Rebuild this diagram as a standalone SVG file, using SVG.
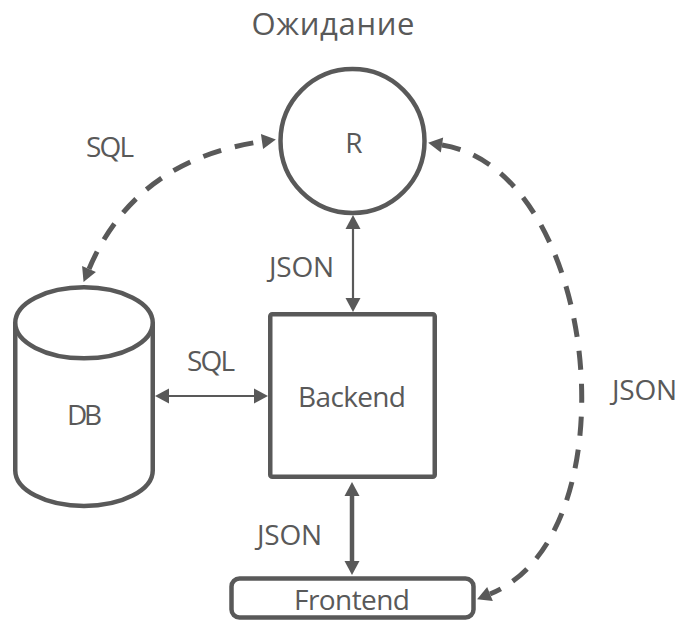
<svg xmlns="http://www.w3.org/2000/svg" width="679" height="621" viewBox="0 0 679 621">
  <style>
    .lbl { font-family: "Open Sans", "Noto Sans", "DejaVu Sans", sans-serif; fill: #595959; text-anchor: middle; }
    .shape { fill: #ffffff; stroke: #595959; stroke-width: 4.5; }
    .link { fill: none; stroke: #595959; }
    .thin { stroke-width: 2.2; }
    .thick { stroke-width: 4.5; }
    .dash { stroke-width: 5; stroke-dasharray: 19 14; }
  </style>
  <defs>
    <!-- arrowhead drawn forward from the path end, so the line stops at its base -->
    <marker id="head" markerUnits="userSpaceOnUse" markerWidth="16" markerHeight="16" refX="0" refY="7.5" orient="auto-start-reverse" viewBox="0 0 16 16" overflow="visible">
      <path d="M0,0 L14,7.5 L0,15 Z" fill="#595959"/>
    </marker>
  </defs>

  <rect width="679" height="621" fill="#ffffff"/>

  <text class="lbl" x="333" y="35" font-size="31" textLength="163">Ожидание</text>

  <g id="connectors">
    <!-- R <-> DB (SQL, dashed) -->
    <path class="link dash" d="M89,269 Q135,160 262,141.5" marker-start="url(#head)" marker-end="url(#head)"/>
    <!-- R <-> Frontend (JSON, dashed) -->
    <path class="link dash" d="M442,145 C600,170 635,535 490,594" marker-start="url(#head)" marker-end="url(#head)"/>
    <!-- R <-> Backend -->
    <path class="link thin" d="M353,229 L353,298" marker-start="url(#head)" marker-end="url(#head)"/>
    <!-- DB <-> Backend -->
    <path class="link thin" d="M169,396 L254,396" marker-start="url(#head)" marker-end="url(#head)"/>
    <!-- Backend <-> Frontend -->
    <path class="link thick" d="M352,496 L352,561" marker-start="url(#head)" marker-end="url(#head)"/>

    <text class="lbl" x="110" y="157" font-size="28" textLength="48">SQL</text>
    <text class="lbl" x="301.5" y="277" font-size="28" textLength="65">JSON</text>
    <text class="lbl" x="211" y="371" font-size="28" textLength="48">SQL</text>
    <text class="lbl" x="289.5" y="545" font-size="28" textLength="65">JSON</text>
    <text class="lbl" x="644.5" y="400" font-size="28" textLength="65">JSON</text>
  </g>

  <g id="node-r">
    <circle class="shape" cx="352.5" cy="141" r="72"/>
    <text class="lbl" x="354" y="153" font-size="28">R</text>
  </g>

  <g id="node-db">
    <path class="shape" d="M15.25,322.8 L15.25,470.5 A68.75,35.5 0 0 0 152.75,470.5 L152.75,322.8"/>
    <ellipse class="shape" cx="84" cy="322.8" rx="68.75" ry="35.5"/>
    <text class="lbl" x="84.5" y="425" font-size="28" textLength="35">DB</text>
  </g>

  <g id="node-backend">
    <rect class="shape" x="270.25" y="314.25" width="164.5" height="162.5" rx="2"/>
    <text class="lbl" x="352" y="407" font-size="28" textLength="108">Backend</text>
  </g>

  <g id="node-frontend">
    <rect class="shape" x="231.5" y="578.5" width="242" height="39" rx="8"/>
    <text class="lbl" x="352" y="610" font-size="28" textLength="116">Frontend</text>
  </g>
</svg>
